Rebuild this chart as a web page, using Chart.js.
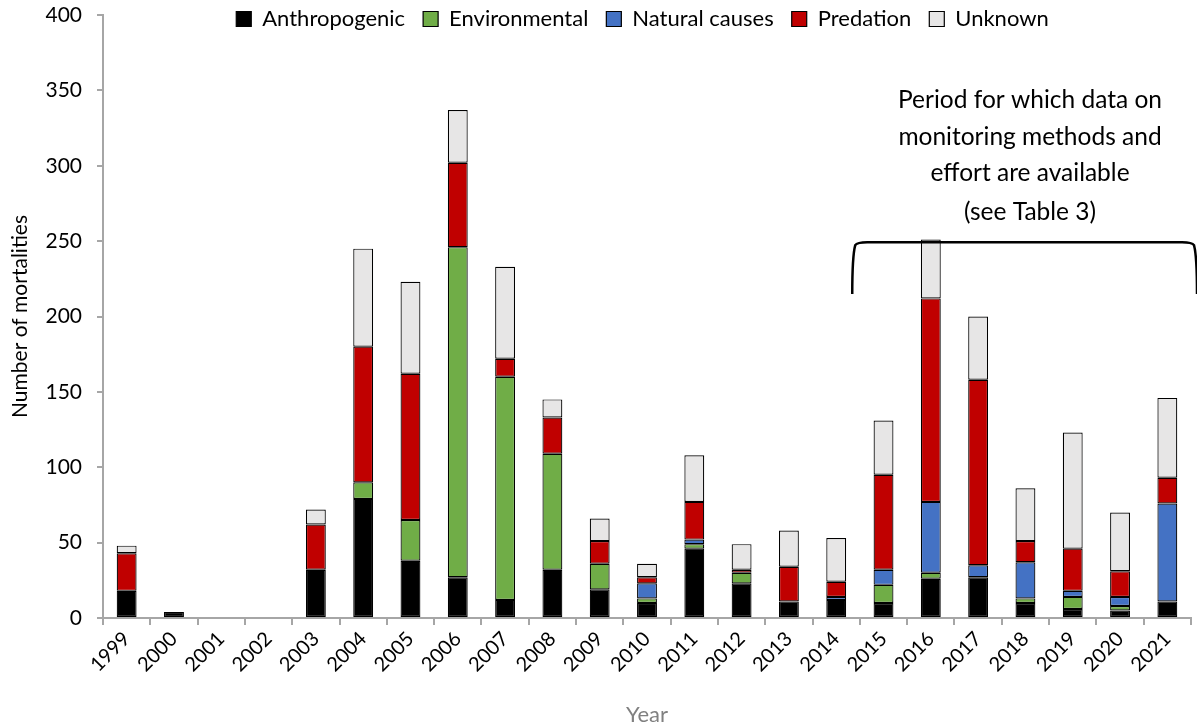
<!DOCTYPE html>
<html>
<head>
<meta charset="utf-8">
<script src="https://cdn.jsdelivr.net/npm/chart.js@4.4.1/dist/chart.umd.min.js"></script>
<style>
  html, body { margin: 0; padding: 0; background: #fff; }
  #wrap { width: 1197px; height: 728px; }
</style>
</head>
<body>
<div id="wrap"><canvas id="c" width="1197" height="728"></canvas></div>
<script>
// Mortalities per year, split by cause
const years = ['1999','2000','2001','2002','2003','2004','2005','2006','2007','2008','2009','2010',
               '2011','2012','2013','2014','2015','2016','2017','2018','2019','2020','2021'];
const anthropogenic = [18, 4, 0, 0, 32, 79, 38, 27, 12, 32, 19, 10, 46, 23, 11, 12, 10, 26, 27, 10, 6, 5, 11];
const environmental = [0, 0, 0, 0, 0, 11, 27, 219, 148, 77, 17, 3, 3, 7, 0, 0, 12, 4, 0, 3, 8, 3, 0];
const naturalCauses = [0, 0, 0, 0, 0, 0, 0, 0, 0, 0, 0, 10, 3, 0, 0, 2, 10, 47, 8, 24, 4, 6, 65];
const predation     = [25, 0, 0, 0, 30, 90, 97, 56, 12, 24, 15, 4, 25, 2, 23, 10, 63, 135, 123, 14, 28, 17, 17];
const unknown       = [5, 0, 0, 0, 10, 65, 61, 35, 61, 12, 15, 9, 31, 17, 24, 29, 36, 39, 42, 35, 77, 39, 53];
const yTicks = [0, 50, 100, 150, 200, 250, 300, 350, 400];

const noteLines = ['Period for which data on', 'monitoring methods and', 'effort are available', '(see Table 3)'];

const FONT = 'Lato, "Noto Sans", sans-serif';
const AXIS_GREY = '#a6a6a6';
const LEGEND_SIZE = 22;
const LEGEND_GAP = 18;

// Legend sits over the top of the plot area rather than above it
const legendOverlay = {
  id: 'legendOverlay',
  afterLayout(chart) {
    const lg = chart.legend;
    if (!lg) return;
    const dy = (19 - LEGEND_GAP - LEGEND_SIZE / 2) - lg.top;
    const dx = 47;
    lg.top += dy; lg.bottom += dy;
    lg.left += dx; lg.right += dx;
  }
};

// Bracket and note marking the years with monitoring data
const bracketPlugin = {
  id: 'periodBracket',
  afterDatasetsDraw(chart) {
    const { ctx, scales: { x, y }, chartArea } = chart;
    const step = x.getPixelForValue(1) - x.getPixelForValue(0);
    const left = x.getPixelForValue(15) + 0.36 * step;
    const right = chartArea.right + 5;
    const top = y.getPixelForValue(250) + 1;
    const bottom = y.getPixelForValue(215);
    const r = 14;
    ctx.save();
    ctx.strokeStyle = '#000';
    ctx.lineWidth = 2.5;
    ctx.beginPath();
    ctx.moveTo(left - 1, bottom);
    ctx.quadraticCurveTo(left - 1, top + r, left + 2, top + 3);
    ctx.quadraticCurveTo(left + 4, top, left + r, top);
    ctx.lineTo(right - r, top);
    ctx.quadraticCurveTo(right - 4, top, right - 2, top + 3);
    ctx.quadraticCurveTo(right + 1, top + r, right + 1, bottom);
    ctx.stroke();

    ctx.fillStyle = '#000';
    ctx.font = '24.5px ' + FONT;
    ctx.textAlign = 'center';
    ctx.textBaseline = 'middle';
    const cx = 1030;
    const ys = [100, 137, 173, 212];
    noteLines.forEach((t, i) => ctx.fillText(t, cx, ys[i]));
    ctx.restore();
  }
};

const seriesStyle = (label, data, color) => ({
  label, data,
  backgroundColor: color,
  borderColor: '#000',
  borderWidth: 1.2,
  borderSkipped: false,
  categoryPercentage: 1,
  barPercentage: 0.42
});

new Chart(document.getElementById('c'), {
  type: 'bar',
  data: {
    labels: years,
    datasets: [
      seriesStyle('Anthropogenic', anthropogenic, '#000000'),
      seriesStyle('Environmental', environmental, '#70ad47'),
      seriesStyle('Natural causes', naturalCauses, '#4472c4'),
      seriesStyle('Predation', predation, '#c00000'),
      seriesStyle('Unknown', unknown, '#e7e6e6')
    ]
  },
  options: {
    responsive: false,
    animation: false,
    layout: { padding: { top: 15 - (LEGEND_SIZE + LEGEND_GAP + 10), right: 6, left: 0, bottom: 0 } },
    plugins: {
      tooltip: { enabled: false },
      legend: {
        position: 'top',
        align: 'center',
        labels: {
          color: '#000',
          font: { family: FONT, size: LEGEND_SIZE },
          boxWidth: 15,
          boxHeight: 15,
          padding: LEGEND_GAP,
          useBorderRadius: false
        }
      }
    },
    scales: {
      x: {
        stacked: true,
        offset: true,
        border: { color: AXIS_GREY, width: 2 },
        grid: { display: true, drawOnChartArea: false, offset: true, color: AXIS_GREY, lineWidth: 2, tickLength: 7 },
        ticks: { color: '#000', font: { family: FONT, size: 20 }, minRotation: 45, maxRotation: 45, padding: 2, autoSkip: false },
        title: { display: true, text: 'Year', color: '#808080', font: { family: FONT, size: 22 }, padding: { top: 4, bottom: 0 } },
        afterFit(scale) { scale.height = 110; }
      },
      y: {
        stacked: true,
        min: 0,
        max: 400,
        afterBuildTicks(scale) { scale.ticks = yTicks.map(v => ({ value: v })); },
        border: { color: AXIS_GREY, width: 2 },
        grid: { display: true, drawOnChartArea: false, color: AXIS_GREY, lineWidth: 2, tickLength: 6 },
        ticks: { color: '#000', font: { family: FONT, size: 21 }, padding: 15 },
        title: { display: true, text: 'Number of mortalities', color: '#000', font: { family: FONT, size: 21 }, padding: { top: 8, bottom: 6 } },
        afterFit(scale) {
          scale.width = 103;
          scale.paddingTop = 0;
          scale.paddingBottom = 0;
        }
      }
    }
  },
  plugins: [legendOverlay, bracketPlugin]
});
</script>
</body>
</html>
